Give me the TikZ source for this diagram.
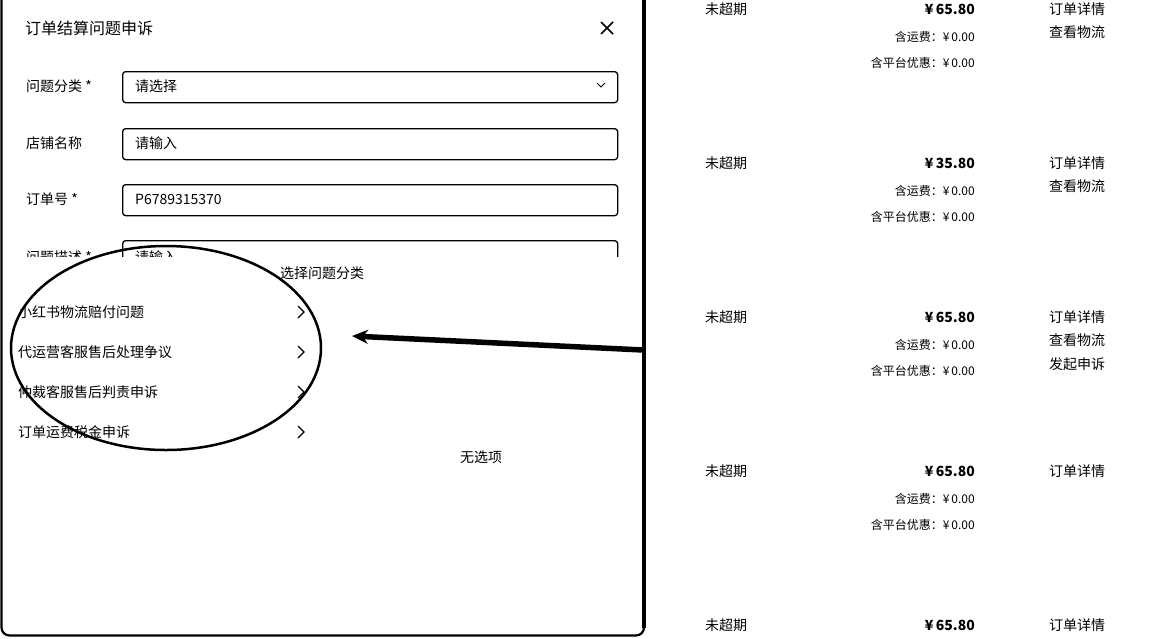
\documentclass[tikz,border=0pt]{standalone}
\usepackage{fontspec}
\setmainfont{Noto Sans CJK SC}
\usetikzlibrary{arrows.meta,shapes.geometric}
\tikzset{
  txt/.style={inner sep=0pt, font=\fontsize{14pt}{16pt}\selectfont},
  lbl/.style={txt, anchor=west},
  ttl/.style={inner sep=0pt, anchor=west, font=\fontsize{16pt}{18pt}\selectfont},
  smallr/.style={inner sep=0pt, anchor=east, font=\fontsize{12pt}{14pt}\selectfont},
  pricer/.style={inner sep=0pt, anchor=east, font=\bfseries\fontsize{14pt}{16pt}\selectfont},
  field/.style={draw, line width=1.3pt, rounded corners=3pt, anchor=north west, inner sep=0pt, minimum width=495pt, minimum height=31pt},
  chev/.style={line width=1.2pt},
}
\begin{document}
\begin{tikzpicture}[x=1pt,y=-1pt]
\useasboundingbox (0,0) rectangle (1158,638);
\fill[white] (0,0) rectangle (1158,638);

% form
\node[ttl] (title) at (25,28) {订单结算问题申诉};
\draw[line width=1.5pt] (601,22) -- (613,34) (613,22) -- (601,34);

\node[lbl] (l1) at (26,86) {问题分类 *};
\node[field] (f1) at (122,71) {};
\node[lbl] (p1) at (135,86) {请选择};
\draw[line width=1pt] (597,83) -- (601,87) -- (605,83);

\node[lbl] (l2) at (26,143) {店铺名称};
\node[field] (f2) at (122,128) {};
\node[lbl] (p2) at (135,143) {请输入};

\node[lbl] (l3) at (26,199) {订单号 *};
\node[field] (f3) at (122,184) {};
\node[lbl] (p3) at (135,199) {P6789315370};

\node[lbl] (l4) at (26,257) {问题描述 *};
\node[field] (f4) at (122,240) {};
\node[lbl] (p4) at (135,257) {请输入};

% popup cover
\fill[white] (3,257) rectangle (641,633);

\node[txt] (ptitle) at (322,273) {选择问题分类};
\node[lbl] (i1) at (18,312) {小红书物流赔付问题};
\node[lbl] (i2) at (18,352) {代运营客服售后处理争议};
\node[lbl] (i3) at (18,392) {仲裁客服售后判责申诉};
\node[lbl] (i4) at (18,432) {订单运费税金申诉};
\foreach \yy in {312,352,392,432}{
  \draw[chev] (298,\yy-6) -- (304,\yy) -- (298,\yy+6);
}
\node[txt] (none) at (481,457) {无选项};

% dialog border
\draw[line width=2.2pt, rounded corners=8pt] (1.5,0) -- (1.5,635.5) -- (644,635.5) -- (644,0);
\draw[line width=4pt] (644,0) -- (644,628);

% right list
\foreach \yy/\pp in {9/65.80,163/35.80,317/65.80,471/65.80,625/65.80}{
  \node[lbl] (st\yy) at (705,\yy) {未超期};
  \node[pricer] (pr\yy) at (975,\yy) {¥\,\pp};
  \node[lbl] (od\yy) at (1049,\yy) {订单详情};
}
\foreach \yy in {9,163,317,471}{
  \node[smallr] (yf\yy) at (975,\yy+28) {含运费：¥\,0.00};
  \node[smallr] (yh\yy) at (975,\yy+54) {含平台优惠：¥\,0.00};
}
\foreach \yy in {9,163,317}{
  \node[lbl] (wl\yy) at (1049,\yy+23) {查看物流};
}
\node[lbl] (ss) at (1049,364) {发起申诉};

% annotation
\node[draw, ellipse, line width=2.5pt, minimum width=310pt, minimum height=204pt, inner sep=0pt] (oval) at (166,348) {};
\coordinate (tail) at (643,350);
\coordinate (tip) at (352,336);
\draw[line width=5.5pt, -{Stealth[length=16pt,width=14pt]}] (tail) -- (tip);
\end{tikzpicture}
\end{document}
